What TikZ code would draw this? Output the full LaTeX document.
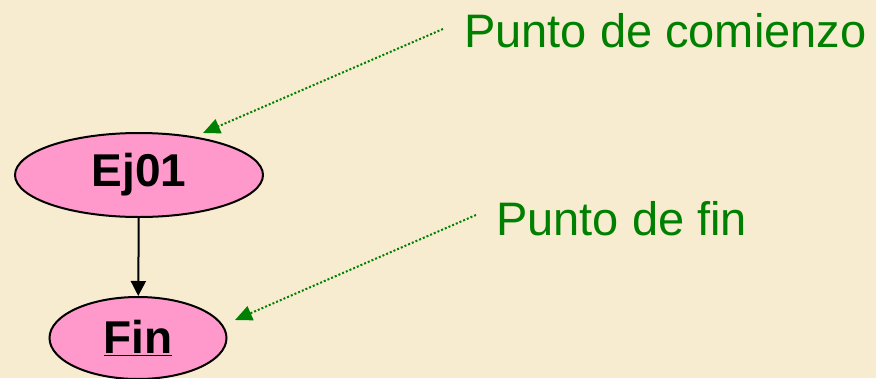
\documentclass[tikz,border=0pt]{standalone}
\usepackage{fontspec}
\setmainfont{Liberation Sans}
\usetikzlibrary{shapes.geometric,arrows.meta}
\definecolor{bg}{RGB}{248,236,208}
\definecolor{pinkfill}{RGB}{255,153,204}
\definecolor{labgreen}{RGB}{0,128,0}
\tikzset{
  state/.style={ellipse,draw=black,line width=2pt,fill=pinkfill,inner sep=0pt,font=\fontsize{46}{46}\selectfont\bfseries},
  flow/.style={draw=black,line width=2pt,-{Triangle[length=15pt,width=15pt]}},
  note/.style={text=labgreen,font=\fontsize{47}{47}\selectfont,anchor=base west,inner sep=0pt},
  pointer/.style={draw=labgreen,line width=2pt,dotted,-{Triangle[length=17pt,width=15pt]},labgreen}
}
\begin{document}
\begin{tikzpicture}[x=1pt,y=-1pt]
\fill[bg] (0,0) rectangle (876,378);
\useasboundingbox (0,0) rectangle (876,378);
\node[state,minimum width=248pt,minimum height=84pt] (ej) at (139,175) {Ej01};
\node[state,minimum width=177pt,minimum height=82pt] (fin) at (138,338) {\underline{Fin}};
\draw[flow] (ej) -- (fin);
\node[note] (start) at (464,47) {Punto de comienzo};
\node[note] (end) at (496,235) {Punto de fin};
\coordinate (s1) at (443,29);
\coordinate (t1) at (203,133);
\coordinate (s2) at (476,215);
\coordinate (t2) at (235,320);
\draw[pointer] (s1) -- (t1);
\draw[pointer] (s2) -- (t2);
\end{tikzpicture}
\end{document}
